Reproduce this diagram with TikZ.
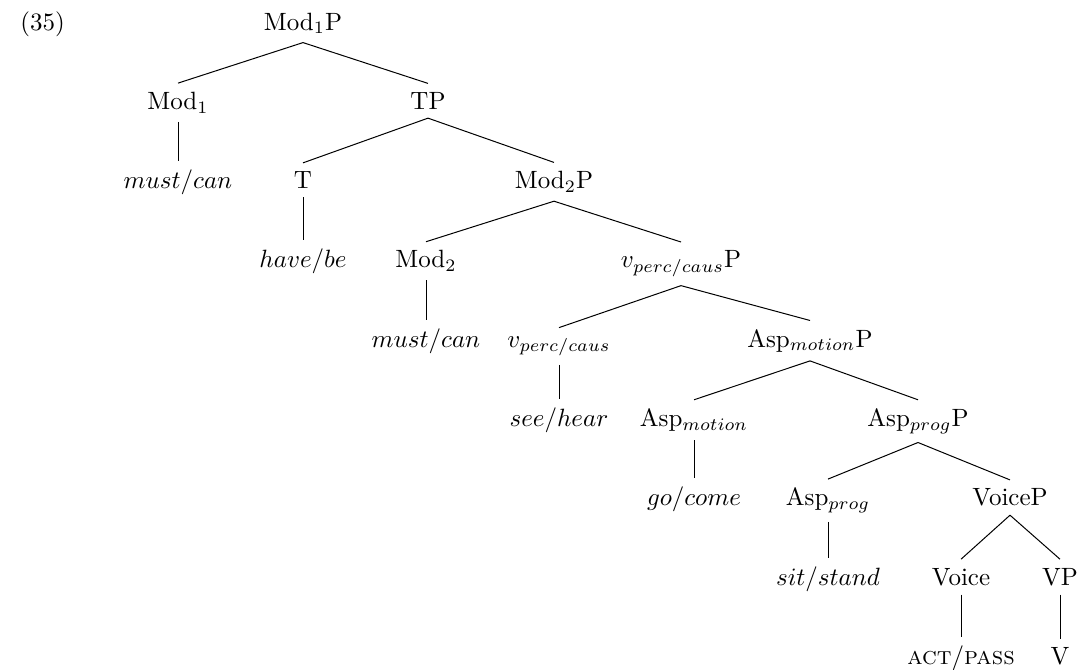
\documentclass[tikz,border=0pt]{standalone}
\begin{document}
\begin{tikzpicture}[x=0.4pt,y=-0.4pt,
  lbl/.style={anchor=base,inner sep=0.3333em},
  edge/.style={line width=0.4pt}]
\useasboundingbox (0,0) rectangle (1091,669);
\def\La{30}\def\Lb{109.3}\def\Lc{188.6}\def\Ld{267.9}\def\Le{347.2}
\def\Lf{426.5}\def\Lg{505.8}\def\Lh{585.1}\def\Li{664.4}
\node[lbl] (ex) at (42.5,\La) {(35)};
\node[lbl] (m1p) at (303,\La) {Mod$_1$P};
\node[lbl] (m1) at (178,\Lb) {Mod$_1$};
\node[lbl] (tp) at (428,\Lb) {TP};
\node[lbl] (mc1) at (178,\Lc) {$must/can$};
\node[lbl] (t) at (303,\Lc) {T};
\node[lbl] (m2p) at (554,\Lc) {Mod$_2$P};
\node[lbl] (hb) at (303,\Ld) {$have/be$};
\node[lbl] (m2) at (426,\Ld) {Mod$_2$};
\node[lbl] (vp) at (681,\Ld) {$v_{perc/caus}$P};
\node[lbl] (mc2) at (426,\Le) {$must/can$};
\node[lbl] (v) at (559,\Le) {$v_{perc/caus}$};
\node[lbl] (amp) at (810,\Le) {Asp$_{motion}$P};
\node[lbl] (sh) at (559,\Lf) {$see/hear$};
\node[lbl] (am) at (694,\Lf) {Asp$_{motion}$};
\node[lbl] (app) at (918,\Lf) {Asp$_{prog}$P};
\node[lbl] (gc) at (694,\Lg) {$go/come$};
\node[lbl] (ap) at (828,\Lg) {Asp$_{prog}$};
\node[lbl] (voicep) at (1010,\Lg) {VoiceP};
\node[lbl] (ss) at (828,\Lh) {$sit/stand$};
\node[lbl] (voice) at (961,\Lh) {Voice};
\node[lbl] (vpp) at (1060,\Lh) {VP};
\node[lbl] (ap2) at (961,\Li) {\textsc{act}/\textsc{pass}};
\node[lbl] (vv) at (1060,\Li) {V};
\foreach \p/\c in {m1p/m1,m1p/tp,m1/mc1,tp/t,tp/m2p,t/hb,m2p/m2,m2p/vp,m2/mc2,vp/v,vp/amp,v/sh,amp/am,amp/app,am/gc,app/ap,app/voicep,ap/ss,voicep/voice,voicep/vpp,voice/ap2,vpp/vv}
  \draw[edge] (\p.south) -- (\c.north);
\end{tikzpicture}
\end{document}
